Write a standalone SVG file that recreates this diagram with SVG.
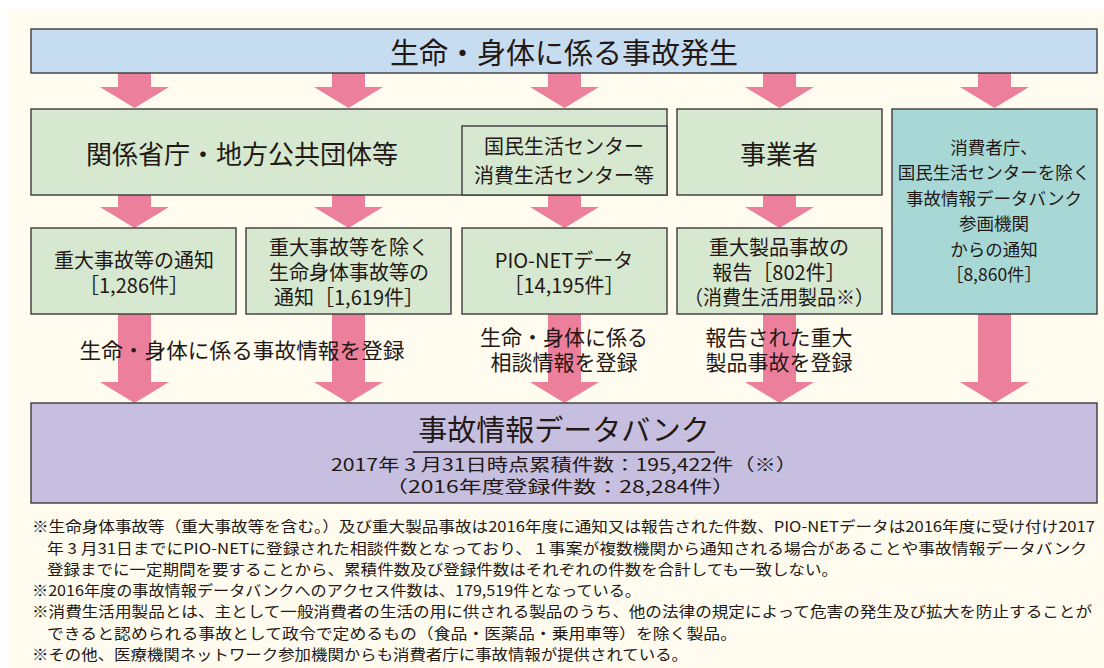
<svg xmlns="http://www.w3.org/2000/svg" width="1104" height="668" viewBox="0 0 1104 668">
<style>
text{font-family:"Noto Sans CJK JP","Noto Sans",sans-serif;fill:#231815;text-anchor:middle;dominant-baseline:central}
.box{stroke:#3b3b3b;stroke-width:1.4}
.g{fill:#d6e8cf}
.arrow{fill:#ec809c}
.fn{text-anchor:start;font-size:15px}
.r3{font-size:20px}
.lb{font-size:21px}
.tl{font-size:17.5px}
</style>
<rect x="7" y="9" width="1097" height="659" fill="#fffcef"/>
<g id="connectors">
<path class="arrow" d="M118,73H151V87H169L134.5,108L100,87H118Z"/>
<path class="arrow" d="M332,73H365V87H383L348.5,108L314,87H332Z"/>
<path class="arrow" d="M548,73H581V87H599L564.5,108L530,87H548Z"/>
<path class="arrow" d="M763,73H796V87H814L779.5,108L745,87H763Z"/>
<path class="arrow" d="M978,73H1011V87H1029L994.5,108L960,87H978Z"/>
<path class="arrow" d="M118,195H151V207H169L134.5,228L100,207H118Z"/>
<path class="arrow" d="M332,195H365V207H383L348.5,228L314,207H332Z"/>
<path class="arrow" d="M548,195H581V207H599L564.5,228L530,207H548Z"/>
<path class="arrow" d="M763,195H796V207H814L779.5,228L745,207H763Z"/>
<path class="arrow" d="M118,314H151V382H169L134.5,403L100,382H118Z"/>
<path class="arrow" d="M332,314H365V382H383L348.5,403L314,382H332Z"/>
<path class="arrow" d="M548,314H581V382H599L564.5,403L530,382H548Z"/>
<path class="arrow" d="M763,314H796V382H814L779.5,403L745,382H763Z"/>
<path class="arrow" d="M978,314H1011V382H1029L994.5,403L960,382H978Z"/>
<text class="lb" x="242" y="349" textLength="325" lengthAdjust="spacingAndGlyphs">生命・身体に係る事故情報を登録</text>
<text class="lb" x="564" y="336">生命・身体に係る</text>
<text class="lb" x="564" y="361">相談情報を登録</text>
<text class="lb" x="779" y="336">報告された重大</text>
<text class="lb" x="779" y="361">製品事故を登録</text>
</g>
<g id="accident">
<rect class="box" x="31" y="29" width="1066" height="44" fill="#c6ddf1"/>
<text x="564" y="51" font-size="29">生命・身体に係る事故発生</text>
</g>
<g id="agencies">
<rect class="box g" x="31" y="109" width="636" height="86"/>
<text x="242" y="152" font-size="26">関係省庁・地方公共団体等</text>
</g>
<g id="centers">
<rect class="box g" x="462" y="126" width="205" height="69"/>
<text x="564" y="145" font-size="20">国民生活センター</text>
<text x="564" y="174" font-size="20">消費生活センター等</text>
</g>
<g id="business">
<rect class="box g" x="677" y="109" width="205" height="86"/>
<text x="779" y="152" font-size="26">事業者</text>
</g>
<g id="participants">
<rect class="box" x="892" y="109" width="205" height="205" fill="#a8d8d6"/>
<text class="tl" x="994" y="146">消費者庁、</text>
<text class="tl" x="994" y="171">国民生活センターを除く</text>
<text class="tl" x="994" y="197">事故情報データバンク</text>
<text class="tl" x="994" y="222">参画機関</text>
<text class="tl" x="994" y="248">からの通知</text>
<text class="tl" x="994" y="273">［8,860件］</text>
</g>
<g id="serious">
<rect class="box g" x="31" y="228" width="205" height="86"/>
<text class="r3" x="134" y="259">重大事故等の通知</text>
<text class="r3" x="134" y="284">［1,286件］</text>
</g>
<g id="other">
<rect class="box g" x="246" y="228" width="205" height="86"/>
<text class="r3" x="349" y="246">重大事故等を除く</text>
<text class="r3" x="349" y="271">生命身体事故等の</text>
<text class="r3" x="349" y="296">通知［1,619件］</text>
</g>
<g id="pionet">
<rect class="box g" x="462" y="228" width="205" height="86"/>
<text class="r3" x="564" y="259">PIO-NETデータ</text>
<text class="r3" x="564" y="284">［14,195件］</text>
</g>
<g id="product">
<rect class="box g" x="677" y="228" width="205" height="86"/>
<text class="r3" x="779" y="246">重大製品事故の</text>
<text class="r3" x="779" y="271">報告［802件］</text>
<text class="r3" x="779" y="296" textLength="190" lengthAdjust="spacingAndGlyphs">（消費生活用製品※）</text>
</g>
<g id="databank">
<rect class="box" x="31" y="403" width="1066" height="100" fill="#c6bfdf"/>
<text x="564" y="428" font-size="29">事故情報データバンク</text>
<line x1="413" y1="452" x2="715" y2="452" stroke="#231815" stroke-width="1.4"/>
<text x="564" y="463" font-size="17" textLength="466" lengthAdjust="spacingAndGlyphs">2017年 3 月31日時点累積件数：195,422件（※）</text>
<text x="560" y="485" font-size="17" textLength="350" lengthAdjust="spacingAndGlyphs">（2016年度登録件数：28,284件）</text>
</g>
<g id="notes">
<text class="fn" x="32" y="525" textLength="1063" lengthAdjust="spacingAndGlyphs">※生命身体事故等（重大事故等を含む。）及び重大製品事故は2016年度に通知又は報告された件数、PIO-NETデータは2016年度に受け付け2017</text>
<text class="fn" x="47" y="547" textLength="1040" lengthAdjust="spacingAndGlyphs">年 3 月31日までにPIO-NETに登録された相談件数となっており、１事案が複数機関から通知される場合があることや事故情報データバンク</text>
<text class="fn" x="47" y="568" textLength="791" lengthAdjust="spacingAndGlyphs">登録までに一定期間を要することから、累積件数及び登録件数はそれぞれの件数を合計しても一致しない。</text>
<text class="fn" x="32" y="589" textLength="609" lengthAdjust="spacingAndGlyphs">※2016年度の事故情報データバンクへのアクセス件数は、179,519件となっている。</text>
<text class="fn" x="32" y="610" textLength="1060" lengthAdjust="spacingAndGlyphs">※消費生活用製品とは、主として一般消費者の生活の用に供される製品のうち、他の法律の規定によって危害の発生及び拡大を防止することが</text>
<text class="fn" x="47" y="632" textLength="690" lengthAdjust="spacingAndGlyphs">できると認められる事故として政令で定めるもの（食品・医薬品・乗用車等）を除く製品。</text>
<text class="fn" x="32" y="653" textLength="656" lengthAdjust="spacingAndGlyphs">※その他、医療機関ネットワーク参加機関からも消費者庁に事故情報が提供されている。</text>
</g>
</svg>
